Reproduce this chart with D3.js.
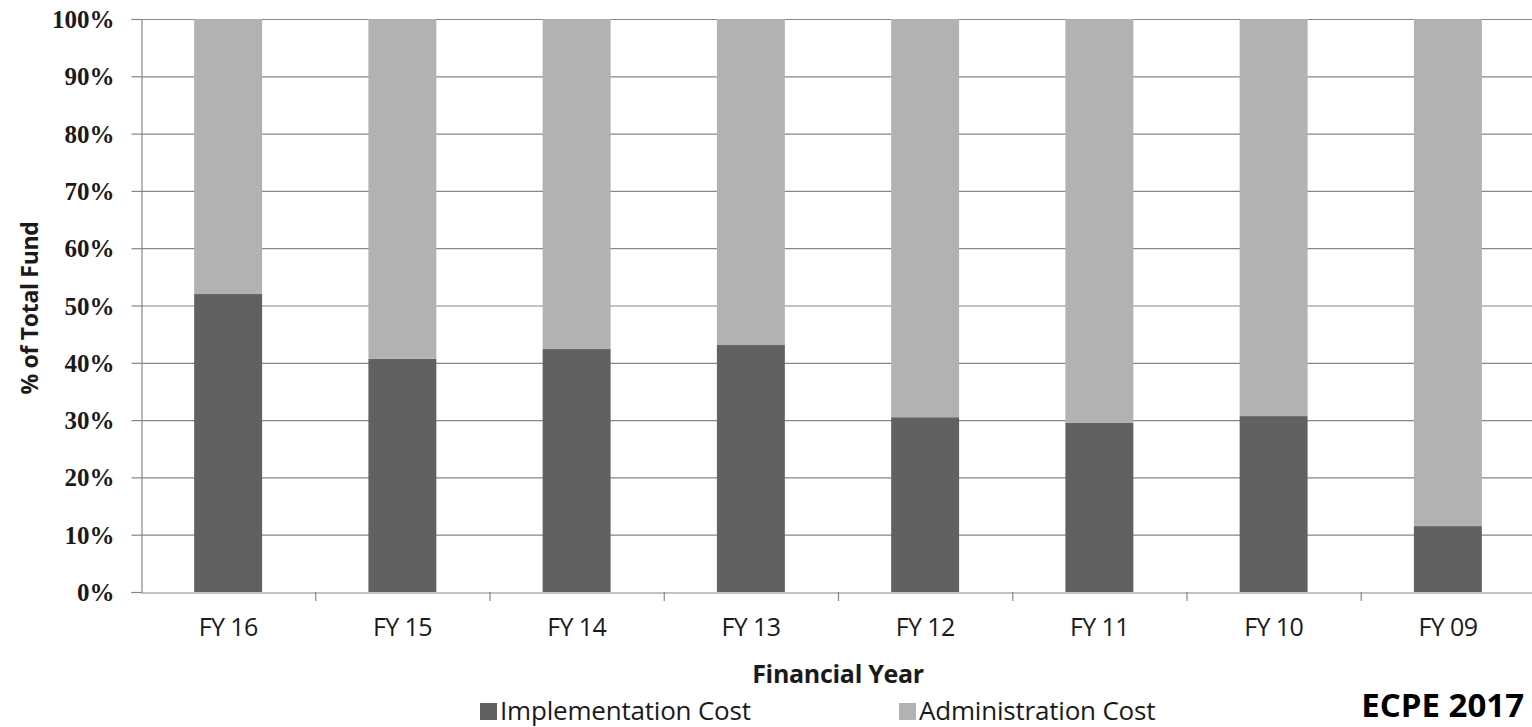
<!DOCTYPE html>
<html><head><meta charset="utf-8">
<script src="https://cdn.jsdelivr.net/npm/d3@7"></script>
<style>body{margin:0;background:#fff}svg{display:block}</style>
</head><body>
<svg id="c" width="1532" height="727"></svg>
<script>
const categories = ["FY 16","FY 15","FY 14","FY 13","FY 12","FY 11","FY 10","FY 09"];
const implementation = [52.0, 40.7, 42.4, 43.1, 30.5, 29.5, 30.7, 11.5];
const administration = implementation.map(v => 100 - v);
const seriesNames = ["Implementation Cost","Administration Cost"];
const yTicks = [0,10,20,30,40,50,60,70,80,90,100];
const colors = ["#616161","#b2b2b2"];

const svg = d3.select("#c");
const m = {left:141, top:19, right:1535, bottom:592};
const x = d3.scaleBand().domain(categories).range([m.left, m.right]).paddingInner(0.61).paddingOuter(0.305);
const y = d3.scaleLinear().domain([0,100]).range([m.bottom, m.top]);
const grid = "#868686";

// gridlines
svg.append("g").selectAll("line").data(yTicks.filter(d=>d>0)).join("line")
  .attr("x1", m.left).attr("x2", 1532).attr("y1", d=>y(d)+0.5).attr("y2", d=>y(d)+0.5)
  .attr("stroke", grid).attr("stroke-width", 1.2);

const rows = categories.map((c,i)=>({cat:c, impl:implementation[i], admin:administration[i]}));
const stack = d3.stack().keys(["impl","admin"])(rows);
svg.append("g").selectAll("g").data(stack).join("g").attr("fill",(d,i)=>colors[i])
  .selectAll("rect").data(d=>d).join("rect")
  .attr("x", d=>x(d.data.cat)).attr("width", x.bandwidth())
  .attr("y", d=>y(d[1])).attr("height", d=>y(d[0])-y(d[1]));

// y axis
const ya = svg.append("g").attr("transform",`translate(${m.left+0.5},0)`)
  .call(d3.axisLeft(y).tickValues(yTicks).tickFormat(d=>d+"%").tickSize(10).tickPadding(17));
ya.select(".domain").attr("stroke",grid).attr("stroke-width",1.2);
ya.selectAll(".tick line").attr("stroke",grid).attr("stroke-width",1.2);
ya.selectAll("text").attr("font-family","Liberation Serif, serif").attr("font-weight","bold")
  .attr("font-size",25).attr("fill","#1a1a1a").attr("dy","0.34em");

// x axis
const xa = svg.append("g").attr("transform",`translate(0,${m.bottom+0.5})`)
  .call(d3.axisBottom(x).tickSize(0).tickPadding(0));
xa.select(".domain").attr("stroke",grid).attr("stroke-width",1.2);
xa.selectAll("text").attr("font-family","Open Sans, sans-serif").attr("font-size",25).attr("fill","#1a1a1a")
  .attr("y", 26).attr("dy","0.71em").attr("letter-spacing","-0.6");
// boundary ticks
const step = x.step();
svg.append("g").selectAll("line").data(d3.range(1,categories.length+1)).join("line")
  .attr("x1", d=>m.left+d*step+0.5).attr("x2", d=>m.left+d*step+0.5)
  .attr("y1", m.bottom).attr("y2", m.bottom+9).attr("stroke",grid).attr("stroke-width",1.2);

// titles
svg.append("text").attr("transform","translate(38,308) rotate(-90)").attr("text-anchor","middle")
  .attr("font-family","Open Sans, sans-serif").attr("font-weight","bold").attr("font-size",23).attr("fill","#1a1a1a")
  .attr("letter-spacing","-0.3").text("% of Total Fund");
svg.append("text").attr("x",838).attr("y",683).attr("text-anchor","middle")
  .attr("font-family","Open Sans, sans-serif").attr("font-weight","bold").attr("font-size",25).attr("fill","#1a1a1a")
  .attr("letter-spacing","-0.3").text("Financial Year");

// legend
const legX = [480, 899];
const lg = svg.append("g").selectAll("g").data(seriesNames).join("g")
  .attr("transform",(d,i)=>`translate(${legX[i]},703)`);
lg.append("rect").attr("width",17).attr("height",17).attr("fill",(d,i)=>colors[i]);
lg.append("text").attr("x",20).attr("y",17).attr("font-family","Open Sans, sans-serif").attr("font-size",26)
  .attr("fill","#1a1a1a").attr("letter-spacing","-0.2").text(d=>d);

svg.append("text").attr("x",1524).attr("y",717).attr("text-anchor","end").attr("font-family","Open Sans, sans-serif")
  .attr("font-weight","bold").attr("font-size",33).attr("fill","#000").text("ECPE 2017");
</script>
</body></html>
